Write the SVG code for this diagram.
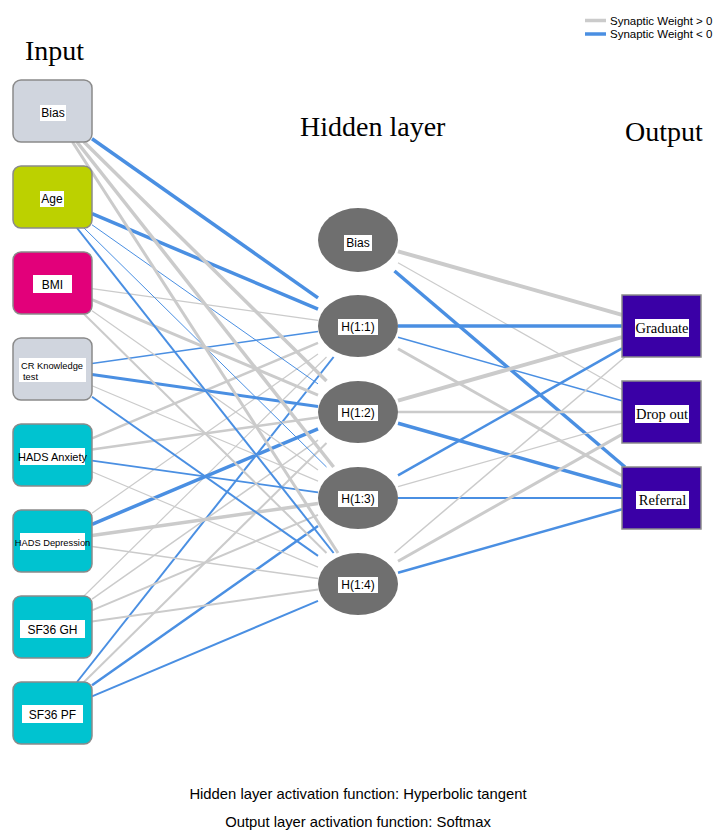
<svg xmlns="http://www.w3.org/2000/svg" width="724" height="831" viewBox="0 0 724 831">
<style>
.pos{stroke:#cbcbcb;fill:none}
.neg{stroke:#4a8fe2;fill:none}
.inbox{stroke:#8a8a8a;stroke-width:1.5}
.hid{fill:#6f6f6f}
.outbox{fill:#3a00a6;stroke:#8a8a8a;stroke-width:1.5}
.lbl{fill:#ffffff}
.sans{font-family:"Liberation Sans",Arial,sans-serif;fill:#000}
.serif{font-family:"Liberation Serif","Times New Roman",serif;fill:#000}
.title{font-family:"Liberation Serif","Times New Roman",serif;font-size:28px;fill:#000}
</style>
<rect x="0" y="0" width="724" height="831" fill="#ffffff"/>

<!-- titles -->
<text class="title" x="25" y="60">Input</text>
<text class="title" x="300" y="136">Hidden layer</text>
<text class="title" x="625" y="141">Output</text>

<!-- legend -->
<g id="legend">
<line class="pos" x1="585" y1="20.5" x2="606" y2="20.5" stroke-width="3.5"/>
<text class="sans" x="610" y="24.5" font-size="11.5">Synaptic Weight &gt; 0</text>
<line class="neg" x1="585" y1="34" x2="606" y2="34" stroke-width="3.5"/>
<text class="sans" x="610" y="38" font-size="11.5">Synaptic Weight &lt; 0</text>
</g>

<!-- connectors -->
<g id="connectors">
<!-- to H(1:1) -->
<line class="neg" x1="92" y1="138.8" x2="318" y2="297.9" stroke-width="3.5"/>
<line class="neg" x1="92" y1="213.7" x2="318" y2="309.1" stroke-width="3.5"/>
<line class="pos" x1="92" y1="288.6" x2="318" y2="320.4" stroke-width="1.2"/>
<line class="neg" x1="92" y1="363.4" x2="318" y2="331.6" stroke-width="1.5"/>
<line class="pos" x1="92" y1="438.3" x2="318" y2="342.9" stroke-width="2.5"/>
<line class="pos" x1="92" y1="513.2" x2="318" y2="354.1" stroke-width="1.2"/>
<line class="pos" x1="84" y1="596" x2="326.5" y2="357" stroke-width="1.2"/>
<line class="neg" x1="77" y1="682" x2="333.6" y2="357" stroke-width="2"/>
<!-- to H(1:2) -->
<line class="pos" x1="84" y1="142" x2="326.5" y2="381" stroke-width="3.5"/>
<line class="neg" x1="92" y1="224.8" x2="318" y2="383.9" stroke-width="1"/>
<line class="pos" x1="92" y1="299.7" x2="318" y2="395.1" stroke-width="3"/>
<line class="neg" x1="92" y1="374.6" x2="318" y2="406.4" stroke-width="3"/>
<line class="pos" x1="92" y1="449.4" x2="318" y2="417.6" stroke-width="2.5"/>
<line class="neg" x1="92" y1="524.3" x2="318" y2="428.9" stroke-width="3.5"/>
<line class="pos" x1="92" y1="599.2" x2="318" y2="440.1" stroke-width="1.5"/>
<line class="pos" x1="84" y1="682" x2="326.5" y2="443" stroke-width="2"/>
<!-- to H(1:3) -->
<line class="pos" x1="77" y1="142" x2="333.6" y2="467" stroke-width="3.5"/>
<line class="neg" x1="84" y1="228" x2="326.5" y2="467" stroke-width="1"/>
<line class="pos" x1="92" y1="310.8" x2="318" y2="469.9" stroke-width="1.2"/>
<line class="pos" x1="92" y1="385.7" x2="318" y2="481.1" stroke-width="1.2"/>
<line class="neg" x1="92" y1="460.6" x2="318" y2="492.4" stroke-width="1.8"/>
<line class="pos" x1="92" y1="535.4" x2="318" y2="503.6" stroke-width="3.5"/>
<line class="pos" x1="92" y1="610.3" x2="318" y2="514.9" stroke-width="2"/>
<line class="neg" x1="92" y1="685.2" x2="318" y2="526.1" stroke-width="2.5"/>
<!-- to H(1:4) -->
<line class="pos" x1="72.5" y1="142" x2="338" y2="553" stroke-width="3"/>
<line class="neg" x1="77" y1="228" x2="333.6" y2="553" stroke-width="2"/>
<line class="pos" x1="84" y1="314" x2="326.5" y2="553" stroke-width="2"/>
<line class="neg" x1="92" y1="396.8" x2="318" y2="555.9" stroke-width="2"/>
<line class="pos" x1="92" y1="471.7" x2="318" y2="567.1" stroke-width="1.2"/>
<line class="pos" x1="92" y1="546.6" x2="318" y2="578.4" stroke-width="1.5"/>
<line class="pos" x1="92" y1="621.4" x2="318" y2="589.6" stroke-width="2"/>
<line class="neg" x1="92" y1="696.3" x2="318" y2="600.9" stroke-width="2"/>
<!-- hidden to output -->
<line class="pos" x1="398" y1="251.3" x2="622" y2="314.8" stroke-width="4"/>
<line class="pos" x1="398" y1="262.7" x2="622" y2="389.6" stroke-width="1.2"/>
<line class="neg" x1="394.5" y1="271" x2="625" y2="467" stroke-width="3.5"/>
<line class="neg" x1="398" y1="326" x2="622" y2="326" stroke-width="3.5"/>
<line class="neg" x1="398" y1="337.3" x2="622" y2="400.8" stroke-width="1.5"/>
<line class="pos" x1="398" y1="348.7" x2="622" y2="475.6" stroke-width="3"/>
<line class="pos" x1="398" y1="400.7" x2="622" y2="337.2" stroke-width="4"/>
<line class="pos" x1="398" y1="412" x2="622" y2="412" stroke-width="2.5"/>
<line class="neg" x1="398" y1="423.3" x2="622" y2="486.8" stroke-width="3.5"/>
<line class="neg" x1="398" y1="475.3" x2="622" y2="348.4" stroke-width="2.5"/>
<line class="pos" x1="398" y1="486.7" x2="622" y2="423.2" stroke-width="1.2"/>
<line class="neg" x1="398" y1="498" x2="622" y2="498" stroke-width="2"/>
<line class="pos" x1="394.5" y1="553" x2="625" y2="357" stroke-width="1.5"/>
<line class="pos" x1="398" y1="561.3" x2="622" y2="434.4" stroke-width="3"/>
<line class="neg" x1="398" y1="572.7" x2="622" y2="509.2" stroke-width="2.5"/>
</g>

<!-- input nodes -->
<g id="in-bias">
<rect class="inbox" x="13" y="80" width="79" height="62" rx="8" fill="#d0d5de"/>
<rect class="lbl" x="40" y="105" width="26" height="16"/>
<text class="sans" x="53" y="117" font-size="12" text-anchor="middle">Bias</text>
</g>
<g id="in-age">
<rect class="inbox" x="13" y="166" width="79" height="62" rx="8" fill="#bcd100"/>
<rect class="lbl" x="40" y="191" width="24" height="16"/>
<text class="sans" x="52" y="203" font-size="12" text-anchor="middle">Age</text>
</g>
<g id="in-bmi">
<rect class="inbox" x="13" y="252" width="79" height="62" rx="8" fill="#e2007a"/>
<rect class="lbl" x="33" y="275" width="39" height="18"/>
<text class="sans" x="52.5" y="289" font-size="12" text-anchor="middle">BMI</text>
</g>
<g id="in-cr">
<rect class="inbox" x="13" y="338" width="79" height="62" rx="8" fill="#d0d5de"/>
<rect class="lbl" x="19" y="358" width="67" height="24"/>
<text class="sans" x="21" y="369" font-size="9.3">CR Knowledge</text>
<text class="sans" x="23" y="380" font-size="9.3">test</text>
</g>
<g id="in-anx">
<rect class="inbox" x="13" y="424" width="79" height="62" rx="8" fill="#00c3d0"/>
<rect class="lbl" x="20" y="448" width="65" height="17"/>
<text class="sans" x="52.5" y="460.5" font-size="11" text-anchor="middle">HADS Anxiety</text>
</g>
<g id="in-dep">
<rect class="inbox" x="13" y="510" width="79" height="62" rx="8" fill="#00c3d0"/>
<rect class="lbl" x="20" y="533" width="65" height="17"/>
<text class="sans" x="52.5" y="545.5" font-size="9.3" text-anchor="middle">HADS Depression</text>
</g>
<g id="in-gh">
<rect class="inbox" x="13" y="596" width="79" height="62" rx="8" fill="#00c3d0"/>
<rect class="lbl" x="20" y="620" width="65" height="18"/>
<text class="sans" x="52.5" y="633.5" font-size="12" text-anchor="middle">SF36 GH</text>
</g>
<g id="in-pf">
<rect class="inbox" x="13" y="682" width="79" height="62" rx="8" fill="#00c3d0"/>
<rect class="lbl" x="22" y="705" width="61" height="18"/>
<text class="sans" x="52.5" y="718.5" font-size="12" text-anchor="middle">SF36 PF</text>
</g>

<!-- hidden nodes -->
<g id="h-bias">
<ellipse class="hid" cx="358" cy="240" rx="40" ry="32"/>
<rect class="lbl" x="344" y="235" width="28" height="16"/>
<text class="sans" x="358" y="247" font-size="12" text-anchor="middle">Bias</text>
</g>
<g id="h11">
<ellipse class="hid" cx="358" cy="326" rx="40" ry="31"/>
<rect class="lbl" x="338" y="319" width="40" height="16"/>
<text class="sans" x="358" y="331" font-size="12" text-anchor="middle">H(1:1)</text>
</g>
<g id="h12">
<ellipse class="hid" cx="358" cy="412" rx="40" ry="31"/>
<rect class="lbl" x="338" y="405" width="40" height="16"/>
<text class="sans" x="358" y="417" font-size="12" text-anchor="middle">H(1:2)</text>
</g>
<g id="h13">
<ellipse class="hid" cx="358" cy="498" rx="40" ry="31"/>
<rect class="lbl" x="338" y="491" width="40" height="16"/>
<text class="sans" x="358" y="503" font-size="12" text-anchor="middle">H(1:3)</text>
</g>
<g id="h14">
<ellipse class="hid" cx="358" cy="584" rx="40" ry="31"/>
<rect class="lbl" x="338" y="577" width="40" height="16"/>
<text class="sans" x="358" y="589" font-size="12" text-anchor="middle">H(1:4)</text>
</g>

<!-- output nodes -->
<g id="out-grad">
<rect class="outbox" x="622" y="295" width="79" height="62"/>
<rect class="lbl" x="635" y="319" width="54" height="18"/>
<text class="serif" x="662" y="333" font-size="14.5" text-anchor="middle">Graduate</text>
</g>
<g id="out-drop">
<rect class="outbox" x="622" y="381" width="79" height="62"/>
<rect class="lbl" x="635" y="405" width="54" height="18"/>
<text class="serif" x="662" y="419" font-size="14.5" text-anchor="middle">Drop out</text>
</g>
<g id="out-ref">
<rect class="outbox" x="622" y="467" width="79" height="62"/>
<rect class="lbl" x="636" y="491" width="53" height="18"/>
<text class="serif" x="662.5" y="505" font-size="14.5" text-anchor="middle">Referral</text>
</g>

<!-- footnotes -->
<text class="sans" x="358" y="799" font-size="14.8" text-anchor="middle">Hidden layer activation function: Hyperbolic tangent</text>
<text class="sans" x="358" y="827" font-size="14.8" text-anchor="middle">Output layer activation function: Softmax</text>
</svg>
